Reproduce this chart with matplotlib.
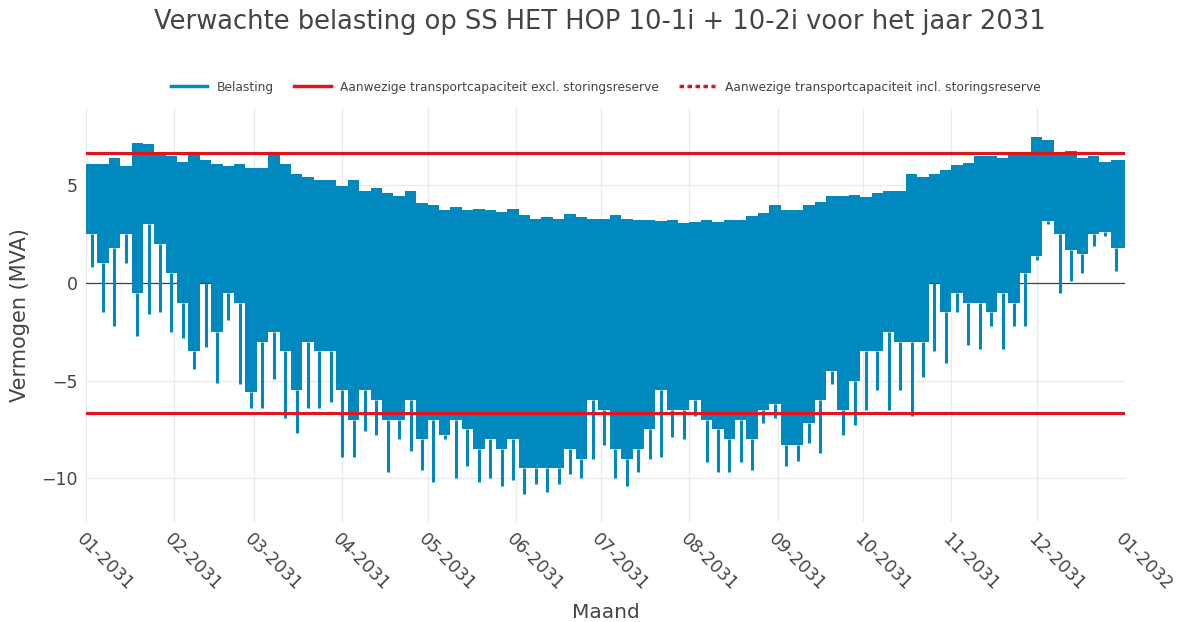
import numpy as np
import pandas as pd
import matplotlib
matplotlib.use('Agg')
import matplotlib.pyplot as plt
import matplotlib.dates as mdates
from matplotlib.lines import Line2D

# Load in 4-day blocks, starting 01-01-2031 (MVA)
block_days = 4
load_upper = [6.1, 6.1, 6.4, 6.0, 7.2, 7.1, 6.6, 6.5, 6.2, 6.65, 6.3, 6.1, 6.0, 6.1, 5.9, 5.9,
              6.6, 6.1, 5.6, 5.45, 5.3, 5.3, 4.95, 5.3, 4.7, 4.85, 4.6, 4.45, 4.7, 4.1, 4.0, 3.75,
              3.9, 3.75, 3.8, 3.75, 3.65, 3.8, 3.5, 3.3, 3.4, 3.3, 3.55, 3.4, 3.3, 3.3, 3.5, 3.3,
              3.25, 3.25, 3.2, 3.25, 3.05, 3.15, 3.25, 3.15, 3.25, 3.25, 3.45, 3.6, 4.0, 3.75, 3.75,
              4.0, 4.15, 4.45, 4.45, 4.5, 4.4, 4.6, 4.7, 4.7, 5.6, 5.45, 5.6, 5.8, 6.05, 6.15, 6.5,
              6.5, 6.4, 6.65, 6.55, 7.5, 7.35, 6.65, 6.75, 6.4, 6.5, 6.2, 6.3]
load_core = [2.5, 1.0, 1.8, 2.5, -0.5, 3.0, 2.0, 0.5, -1.0, -3.5, 0.0, -2.5, -0.5, -1.0, -5.6, -3.0,
             -2.5, -3.5, -5.5, -3.0, -3.5, -3.5, -5.5, -7.0, -5.5, -6.0, -7.0, -7.0, -6.0, -8.0, -7.0, -7.8,
             -7.0, -7.5, -8.5, -8.0, -8.5, -8.0, -9.5, -9.5, -9.5, -9.5, -8.5, -9.0, -6.0, -6.5, -8.5, -9.0,
             -8.5, -7.5, -5.5, -6.5, -6.5, -6.0, -7.0, -7.5, -8.0, -7.0, -8.0, -6.5, -6.2, -8.3, -8.3,
             -7.2, -6.0, -4.5, -6.5, -5.0, -3.5, -3.5, -2.5, -3.0, -3.0, -3.0, 0.0, -1.5, -0.5, -1.0, -1.0,
             -1.5, -0.5, -1.0, 0.5, 1.4, 3.2, 2.5, 1.7, 1.5, 2.5, 2.6, 1.8]
load_spike = [0.8, -1.5, -2.2, 1.0, -2.7, -1.6, -1.5, -2.5, -2.8, -4.4, -3.3, -5.1, -1.9, -5.2, -6.4, -6.4,
              -4.9, -6.9, -7.7, -6.4, -6.4, -6.1, -8.9, -8.9, -7.6, -7.8, -9.7, -8.0, -8.6, -9.6, -10.2, -8.0,
              -10.0, -9.4, -10.2, -10.0, -10.4, -10.1, -10.8, -10.3, -10.7, -10.3, -9.8, -10.0, -9.0, -8.3, -10.0, -10.4,
              -9.7, -9.0, -8.9, -7.9, -8.0, -6.8, -9.2, -9.7, -9.7, -9.2, -9.6, -7.2, -6.9, -9.4, -9.1,
              -8.2, -8.7, -5.2, -7.8, -7.3, -6.5, -5.5, -6.5, -5.5, -6.8, -4.8, -3.5, -4.1, -1.5, -3.2, -3.4,
              -2.2, -3.4, -2.2, -2.2, 1.2, 3.0, -0.5, 0.1, 0.5, 1.9, 2.4, 0.6]

cap_excl = 6.65
cap_incl = 6.65

blue = '#0089bf'
red = '#e0141b'
grey = '#444444'

start = pd.Timestamp('2031-01-01')
end = pd.Timestamp('2032-01-01')
n = len(load_upper)
edges = [start + pd.Timedelta(days=block_days * i) for i in range(n)] + [end]
mids = [start + pd.Timedelta(days=block_days * i + block_days / 2) for i in range(n)]

fig = plt.figure(figsize=(11.88, 6.22), dpi=100)
ax = fig.add_axes([86 / 1188, 1 - 522 / 622, (1125 - 86) / 1188, (522 - 108) / 622])

ax.axhline(0, color=grey, lw=0.9, zorder=1)
ax.fill_between(edges, load_upper + [load_upper[-1]], load_core + [load_core[-1]],
                step='post', color=blue, lw=0, zorder=2)
ax.vlines(mids, load_core, load_spike, color=blue, lw=2.2, zorder=2)

ax.axhline(cap_incl, color=red, lw=2.2, ls=(0, (1.3, 1)), zorder=3)
ax.axhline(-cap_incl, color=red, lw=2.2, ls=(0, (1.3, 1)), zorder=3)
ax.axhline(cap_excl, color=red, lw=2.2, zorder=3)
ax.axhline(-cap_excl, color=red, lw=2.2, zorder=3)

ax.set_xlim(start, end)
ax.set_ylim(-12.25, 8.97)
ax.set_yticks([-10, -5, 0, 5])
ax.xaxis.set_major_locator(mdates.MonthLocator())
ax.xaxis.set_major_formatter(mdates.DateFormatter('%m-%Y'))
ax.grid(True, color='#ebebeb', lw=1)
ax.set_axisbelow(True)
for s in ax.spines.values():
    s.set_visible(False)
ax.tick_params(length=0, labelsize=12.5, colors=grey, pad=6)
for lab in ax.get_xticklabels():
    lab.set_rotation(-45)
    lab.set_ha('left')
    lab.set_va('top')
    lab.set_rotation_mode('anchor')

ax.set_xlabel('Maand', fontsize=14.5, color=grey, labelpad=6)
ax.set_ylabel('Vermogen (MVA)', fontsize=15, color=grey, labelpad=8)
fig.suptitle('Verwachte belasting op SS HET HOP 10-1i + 10-2i voor het jaar 2031',
             x=0.505, y=1 - 22 / 622, va='center', fontsize=18.5, color=grey)

handles = [Line2D([], [], color=blue, lw=2.5),
           Line2D([], [], color=red, lw=2.5),
           Line2D([], [], color=red, lw=2.5, ls=(0, (1.3, 1)))]
labels = ['Belasting',
          'Aanwezige transportcapaciteit excl. storingsreserve',
          'Aanwezige transportcapaciteit incl. storingsreserve']
fig.legend(handles, labels, loc='center', bbox_to_anchor=(0.51, 1 - 87 / 622), ncol=3,
           frameon=False, fontsize=8.8, handlelength=3, columnspacing=1.6, labelcolor=grey)

fig.savefig('out.png', dpi=100)
